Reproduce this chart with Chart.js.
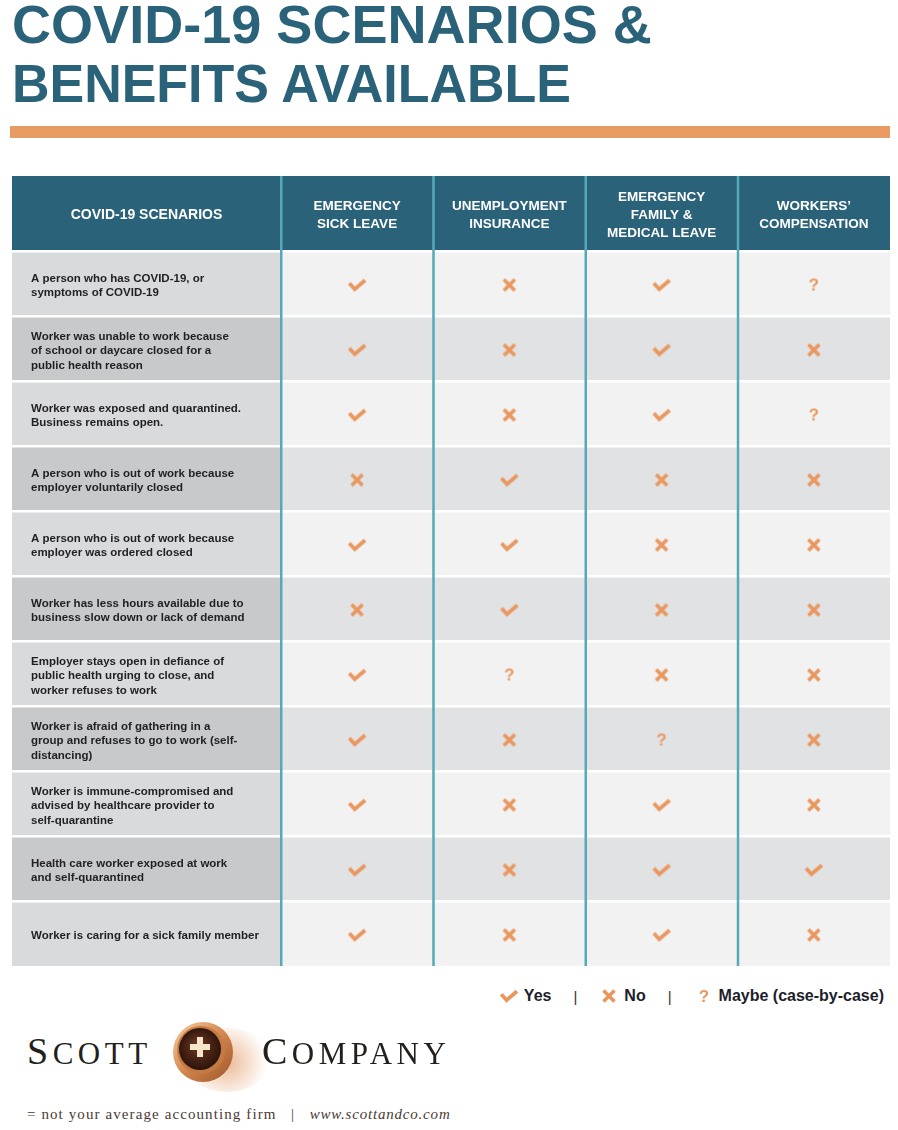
<!DOCTYPE html>
<html>
<head>
<meta charset="utf-8">
<script src="https://cdn.jsdelivr.net/npm/chart.js@4.4.1/dist/chart.umd.min.js"></script>
<style>
  body { margin: 0; background: #fff; font-family: "Liberation Sans", Arial, sans-serif; }
  #page { position: relative; width: 898px; height: 1130px; overflow: hidden; }
  .title { position: absolute; left: 12px; margin: 0; font-weight: bold; font-size: 53px; line-height: 53px;
           color: #2a6279; white-space: nowrap; transform-origin: 0 0; }
  #bar { position: absolute; left: 10px; top: 126px; width: 880px; height: 12px; background: #e89b63; }
  #table { position: absolute; left: 12px; top: 176px; }
  #legend { position: absolute; right: 14px; top: 985px; height: 22px; display: flex; align-items: center;
            font-weight: bold; font-size: 16px; color: #1e1e2c; white-space: nowrap; }
  #legend .ic { display: flex; margin-right: 5px; }
  #legend .sep { font-weight: normal; margin: 0 22px; font-size: 15px; color: #333; }
  .logo { position: absolute; top: 1029px; font-family: "Liberation Serif", serif; color: #231f1c;
          letter-spacing: 4.5px; white-space: nowrap; }
  .logo .big { font-size: 38px; }
  .logo .small { font-size: 31px; }
  #emblem { position: absolute; left: 165px; top: 1012px; }
  #tagline { position: absolute; left: 27px; top: 1106px; font-family: "Liberation Serif", serif; font-size: 15px;
             color: #4b3a33; letter-spacing: 1.1px; white-space: nowrap; }
  #tagline i { letter-spacing: 0.8px; }
</style>
</head>
<body>
<div id="page">
  <h1 class="title" style="top:-2px; transform: scaleX(1.02);">COVID-19 SCENARIOS &amp;</h1>
  <h1 class="title" style="top:57px; transform: scaleX(0.98);">BENEFITS AVAILABLE</h1>
  <div id="bar"></div>

  <canvas id="table" width="878" height="790"></canvas>

  <div id="legend">
    <span class="ic" id="lgYes"></span>Yes<span class="sep">|</span>
    <span class="ic" id="lgNo"></span>No<span class="sep">|</span>
    <span class="ic" id="lgMaybe"></span>Maybe (case-by-case)
  </div>

  <div class="logo" style="left:27px;"><span class="big">S</span><span class="small">COTT</span></div>
  <canvas id="emblem" width="110" height="80"></canvas>
  <div class="logo" style="left:262px;"><span class="big">C</span><span class="small">OMPANY</span></div>
  <div id="tagline">= not your average accounting firm &nbsp;&nbsp;|&nbsp;&nbsp; <i>www.scottandco.com</i></div>
</div>

<script>
// Scenarios (one entry per row, split the way the lines wrap)
const scenarios = [
  ['A person who has COVID-19, or', 'symptoms of COVID-19'],
  ['Worker was unable to work because', 'of school or daycare closed for a', 'public health reason'],
  ['Worker was exposed and quarantined.', 'Business remains open.'],
  ['A person who is out of work because', 'employer voluntarily closed'],
  ['A person who is out of work because', 'employer was ordered closed'],
  ['Worker has less hours available due to', 'business slow down or lack of demand'],
  ['Employer stays open in defiance of', 'public health urging to close, and', 'worker refuses to work'],
  ['Worker is afraid of gathering in a', 'group and refuses to go to work (self-', 'distancing)'],
  ['Worker is immune-compromised and', 'advised by healthcare provider to', 'self-quarantine'],
  ['Health care worker exposed at work', 'and self-quarantined'],
  ['Worker is caring for a sick family member']
];
const scenarioHeader = 'COVID-19 SCENARIOS';

// Benefit columns
const benefits = [
  ['EMERGENCY', 'SICK LEAVE'],
  ['UNEMPLOYMENT', 'INSURANCE'],
  ['EMERGENCY', 'FAMILY &', 'MEDICAL LEAVE'],
  ['WORKERS’', 'COMPENSATION']
];

// Answers per benefit, row by row
const sickLeave    = ['yes', 'yes', 'yes', 'no',  'yes', 'no',  'yes',   'yes',   'yes', 'yes', 'yes'];
const unemployment = ['no',  'no',  'no',  'yes', 'yes', 'yes', 'maybe', 'no',    'no',  'no',  'no'];
const familyLeave  = ['yes', 'yes', 'yes', 'no',  'no',  'no',  'no',    'maybe', 'yes', 'yes', 'yes'];
const workersComp  = ['maybe', 'no', 'maybe', 'no', 'no', 'no', 'no',    'no',    'no',  'yes', 'no'];

const ORANGE = '#e9975f';

function makeIcon(kind, dy) {
  const c = document.createElement('canvas');
  c.width = 20; c.height = 20;
  const g = c.getContext('2d');
  g.translate(0, dy || 0);
  g.strokeStyle = ORANGE;
  g.fillStyle = ORANGE;
  if (kind === 'yes') {
    g.lineWidth = 3.8;
    g.lineJoin = 'miter';
    g.beginPath();
    g.moveTo(2.2, 8.2);
    g.lineTo(7.6, 14.2);
    g.lineTo(18, 5.2);
    g.stroke();
  } else if (kind === 'no') {
    g.lineWidth = 3.6;
    g.beginPath();
    g.moveTo(4.5, 4.5); g.lineTo(15.5, 15.5);
    g.moveTo(15.5, 4.5); g.lineTo(4.5, 15.5);
    g.stroke();
  } else {
    g.font = 'bold 17px "Liberation Sans", Arial, sans-serif';
    g.textAlign = 'center';
    g.textBaseline = 'middle';
    g.fillText('?', 10, 11);
  }
  return c;
}
const icons = { yes: makeIcon('yes', 1.5), no: makeIcon('no', 1.5), maybe: makeIcon('maybe', 1.5) };

document.getElementById('lgYes').appendChild(makeIcon('yes'));
document.getElementById('lgNo').appendChild(makeIcon('no'));
document.getElementById('lgMaybe').appendChild(makeIcon('maybe'));

const scenarioKeys = scenarios.map(s => s.join(' '));
const benefitKeys = benefits.map(b => b.join(' '));
const series = [sickLeave, unemployment, familyLeave, workersComp];

// cell backgrounds, header band, column rules and header text
const tableBg = {
  id: 'tableBg',
  beforeDraw(chart) {
    const { ctx, chartArea: a, scales: { x, y } } = chart;
    const band = (a.bottom - a.top) / scenarios.length;
    const colW = (a.right - a.left) / benefits.length;
    ctx.save();
    ctx.fillStyle = '#2a6279';
    ctx.fillRect(0, 0, chart.width, a.top);

    scenarioKeys.forEach((k, r) => {
      const top = y.getPixelForValue(r) - band / 2;
      ctx.fillStyle = r % 2 ? '#c8c9cb' : '#d9dadc';
      ctx.fillRect(0, top, a.left, band);
      ctx.fillStyle = r % 2 ? '#e1e2e4' : '#f2f2f2';
      ctx.fillRect(a.left, top, a.right - a.left, band);
      ctx.fillStyle = '#ffffff';
      ctx.fillRect(0, top - 1, chart.width, 2.5);
    });

    ctx.fillStyle = '#55aab9';
    benefitKeys.forEach((k, c) => {
      const left = x.getPixelForValue(c) - colW / 2;
      ctx.fillRect(left - 1, 0, 2.5, a.bottom);
    });

    ctx.fillStyle = '#ffffff';
    ctx.textAlign = 'center';
    ctx.textBaseline = 'middle';
    const mid = a.top / 2 + 2;
    ctx.font = 'bold 14px "Liberation Sans", Arial, sans-serif';
    ctx.fillText(scenarioHeader, a.left / 2, mid);
    ctx.font = 'bold 13.5px "Liberation Sans", Arial, sans-serif';
    benefits.forEach((lines, c) => {
      const cx = x.getPixelForValue(c);
      lines.forEach((line, i) => {
        ctx.fillText(line, cx, mid + (i - (lines.length - 1) / 2) * 18);
      });
    });
    ctx.restore();
  }
};

new Chart(document.getElementById('table').getContext('2d'), {
  type: 'scatter',
  data: {
    datasets: series.map((vals, c) => ({
      label: benefitKeys[c],
      data: vals.map((v, r) => ({ x: benefitKeys[c], y: scenarioKeys[r], answer: v })),
      pointStyle: ctx => icons[ctx.raw ? ctx.raw.answer : 'yes'],
      pointRadius: 10,
      pointHoverRadius: 10
    }))
  },
  options: {
    responsive: false,
    animation: false,
    layout: { autoPadding: false, padding: { left: 19, right: 0, top: 0, bottom: 0 } },
    plugins: { legend: { display: false }, tooltip: { enabled: false } },
    scales: {
      x: {
        type: 'category',
        labels: benefitKeys,
        position: 'top',
        offset: true,
        grid: { display: false },
        border: { display: false },
        ticks: { display: false },
        afterFit: s => { s.height = 75; s.paddingLeft = 0; s.paddingRight = 0; }
      },
      y: {
        type: 'category',
        labels: scenarioKeys,
        position: 'left',
        offset: true,
        grid: { display: false },
        border: { display: false },
        ticks: {
          crossAlign: 'far',
          padding: 0,
          labelOffset: 2.5,
          color: '#1f1f24',
          font: { family: '"Liberation Sans", Arial, sans-serif', size: 11.5, weight: 'bold', lineHeight: 1.27 },
          callback: (v, i) => scenarios[i]
        },
        afterFit: s => { s.width = 250; s.paddingTop = 0; s.paddingBottom = 0; }
      }
    }
  },
  plugins: [tableBg]
});

// logo emblem
(function () {
  const g = document.getElementById('emblem').getContext('2d');
  const cx = 38, cy = 40;
  const sh = g.createRadialGradient(62, 50, 4, 62, 50, 40);
  sh.addColorStop(0, 'rgba(222,140,80,0.55)');
  sh.addColorStop(1, 'rgba(222,140,80,0)');
  g.fillStyle = sh;
  g.beginPath(); g.ellipse(62, 48, 44, 32, 0, 0, Math.PI * 2); g.fill();
  const ring = g.createLinearGradient(cx - 30, cy - 30, cx + 30, cy + 30);
  ring.addColorStop(0, '#f6cfa5');
  ring.addColorStop(0.5, '#d3884f');
  ring.addColorStop(1, '#9c5328');
  g.fillStyle = ring;
  g.beginPath(); g.arc(cx, cy, 30, 0, Math.PI * 2); g.fill();
  g.fillStyle = '#c57a45';
  g.beginPath(); g.arc(cx - 2, cy - 2, 24, 0, Math.PI * 2); g.fill();
  const disk = g.createRadialGradient(cx - 6, cy - 8, 2, cx - 3, cy - 3, 22);
  disk.addColorStop(0, '#6a3520');
  disk.addColorStop(1, '#2b130b');
  g.fillStyle = disk;
  g.beginPath(); g.arc(cx - 3, cy - 3, 21, 0, Math.PI * 2); g.fill();
  g.fillStyle = '#f6e6c9';
  g.fillRect(cx - 6, cy - 15, 6, 20);
  g.fillRect(cx - 13, cy - 8, 20, 6);
})();
</script>
</body>
</html>
